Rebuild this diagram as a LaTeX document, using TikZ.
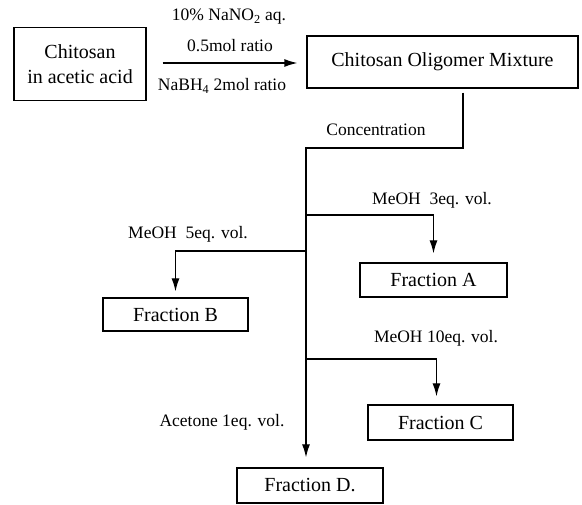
\documentclass[tikz,border=0pt]{standalone}
\usepackage{fontspec}
\setmainfont{Liberation Serif}
\usetikzlibrary{arrows.meta}
\begin{document}
\begin{tikzpicture}[x=1pt,y=-1pt,
  box/.style={draw,line width=1.3pt,inner sep=0pt,align=center,
    font=\fontsize{20}{25}\selectfont},
  lbl/.style={inner sep=0pt,font=\fontsize{17.5}{21}\selectfont},
  conn/.style={line width=1.3pt},
  arr/.style={line width=1.3pt,-{Latex[length=13pt,width=8pt]}}]
\useasboundingbox (0,0) rectangle (582,505);
% boxes
\node[box,minimum width=132pt,minimum height=73pt] (src) at (80,64) {Chitosan\\in acetic acid};
\node[box,minimum width=271pt,minimum height=52pt] (mix) at (442.5,62) {Chitosan Oligomer Mixture};
\node[box,minimum width=147pt,minimum height=34pt] (fA) at (433.5,280) {Fraction A};
\node[box,minimum width=145pt,minimum height=33pt] (fB) at (175.5,314.5) {Fraction B};
\node[box,minimum width=145pt,minimum height=35pt] (fC) at (440.5,422.5) {Fraction C};
\node[box,minimum width=146pt,minimum height=35pt] (fD) at (310,485.5) {Fraction D.};
% reaction arrow and labels
\draw[arr,shorten <=16pt,shorten >=9pt] (src.east |- 0,63) -- (mix.west |- 0,63);
\node[lbl] (l1) at (229,17) {10\% NaNO\textsubscript{2} aq.};
\node[lbl] (l2) at (230,46) {0.5mol ratio};
\node[lbl] (l3) at (222,86) {NaBH\textsubscript{4} 2mol ratio};
% trunk
\coordinate (c1) at (463,148);
\coordinate (c2) at (306,148);
\coordinate (jA) at (306,215);
\coordinate (jB) at (306,251);
\coordinate (jC) at (306,359);
\draw[arr,shorten <=4pt,shorten >=10pt] (mix.south -| c1) -- (c1) -- (c2) -- (c2 |- fD.north);
\node[lbl] (lc) at (376,130) {Concentration};
% branches
\draw[arr,shorten >=9pt] (jA) -- (jA -| fA.north) -- (fA.north);
\node[lbl] (la) at (432,200) {MeOH~~3eq. vol.};
\draw[arr,shorten >=6pt] (jB) -- (jB -| fB.north) -- (fB.north);
\node[lbl] (lb) at (188,234) {MeOH~~5eq. vol.};
\draw[arr,shorten >=8pt] (jC) -- ([xshift=-4pt]jC -| fC.north) -- ([xshift=-4pt]fC.north);
\node[lbl] (lcc) at (436,338) {MeOH 10eq. vol.};
\node[lbl] (ld) at (222,422) {Acetone 1eq. vol.};
\end{tikzpicture}
\end{document}
